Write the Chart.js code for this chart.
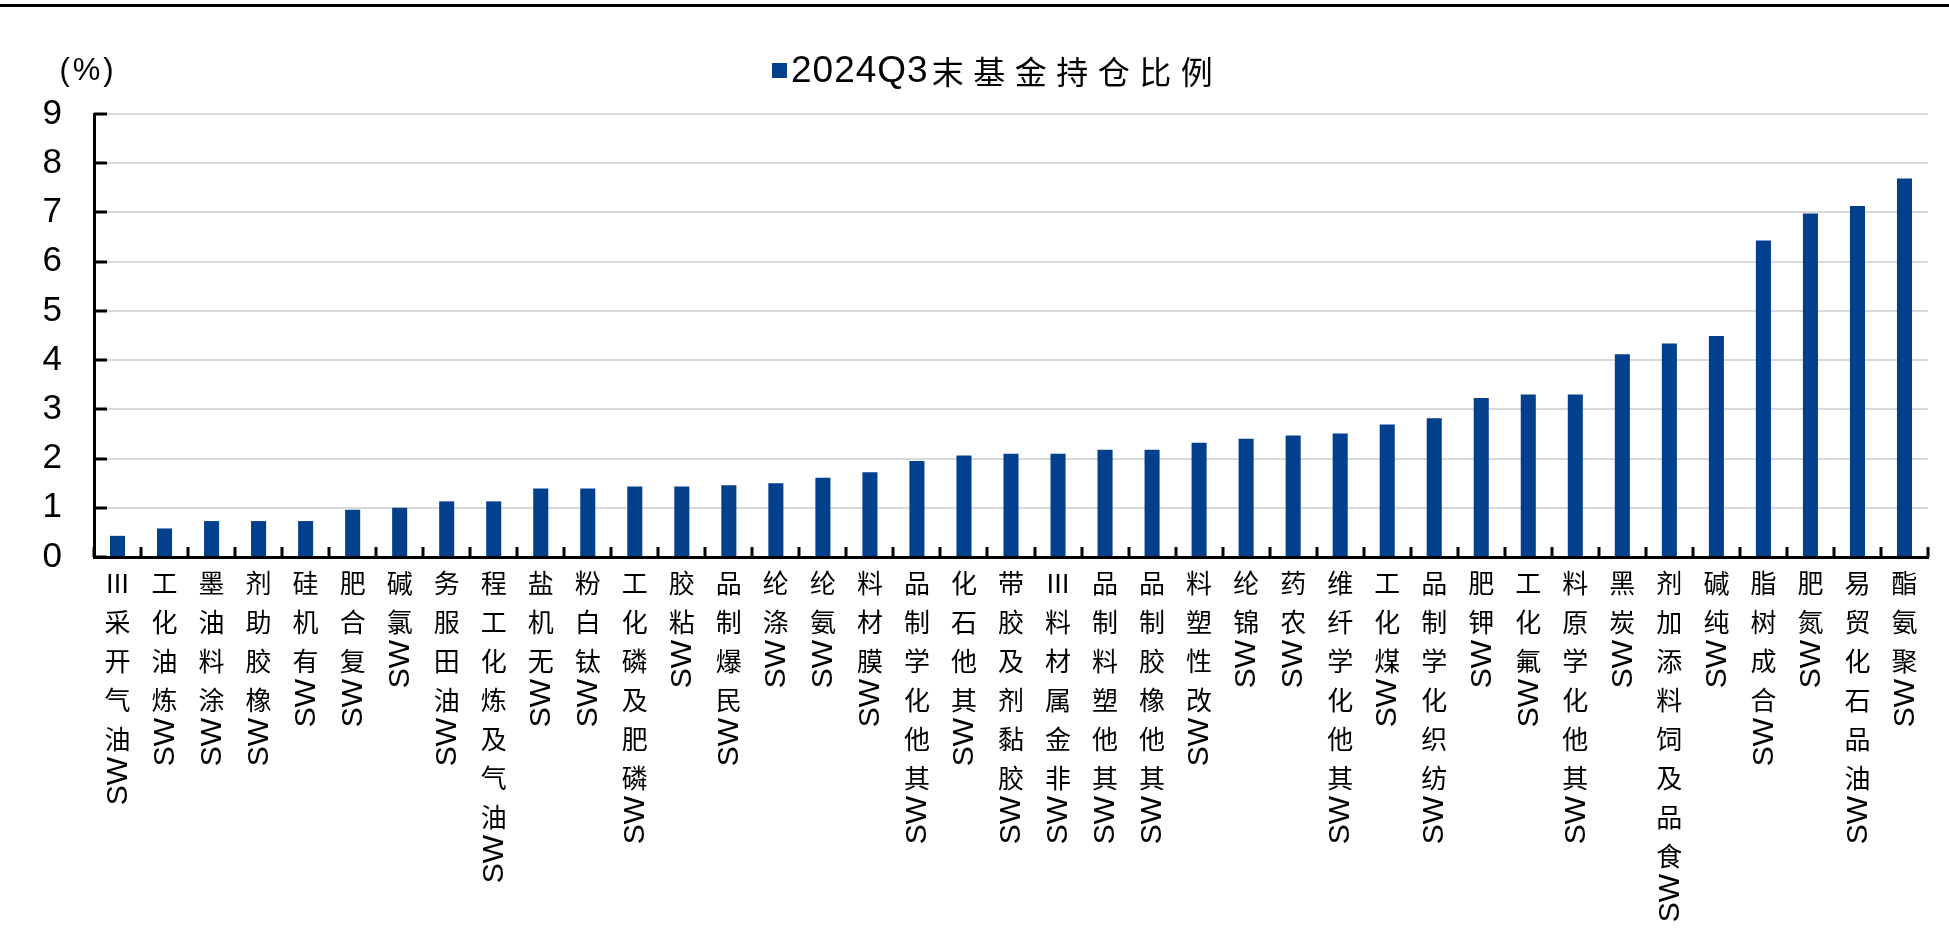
<!DOCTYPE html>
<html>
<head>
<meta charset="utf-8">
<script src="https://cdn.jsdelivr.net/npm/chart.js@4.4.1/dist/chart.umd.min.js"></script>
<style>
  body { margin: 0; background: #fff; }
  canvas { display: block; }
</style>
</head>
<body>
<canvas id="myChart" width="1949" height="945"></canvas>
<script>
// katigories (SW industries) kai times
const categories = [
    'SW油气开采Ⅲ', 'SW炼油化工', 'SW涂料油墨', 'SW橡胶助剂', 'SW有机硅',
    'SW复合肥', 'SW氯碱', 'SW油田服务', 'SW油气及炼化工程', 'SW无机盐',
    'SW钛白粉', 'SW磷肥及磷化工', 'SW粘胶', 'SW民爆制品', 'SW涤纶',
    'SW氨纶', 'SW膜材料', 'SW其他化学制品', 'SW其他石化', 'SW胶黏剂及胶带',
    'SW非金属材料Ⅲ', 'SW其他塑料制品', 'SW其他橡胶制品', 'SW改性塑料', 'SW锦纶',
    'SW农药', 'SW其他化学纤维', 'SW煤化工', 'SW纺织化学制品', 'SW钾肥',
    'SW氟化工', 'SW其他化学原料', 'SW炭黑', 'SW食品及饲料添加剂', 'SW纯碱',
    'SW合成树脂', 'SW氮肥', 'SW油品石化贸易', 'SW聚氨酯'
];
const holdings = [
    0.43, 0.58, 0.73, 0.73, 0.73, 0.96, 1.00, 1.13, 1.13, 1.39,
    1.39, 1.43, 1.43, 1.46, 1.50, 1.61, 1.72, 1.95, 2.06, 2.10,
    2.10, 2.18, 2.18, 2.32, 2.40, 2.47, 2.51, 2.69, 2.82, 3.23,
    3.30, 3.30, 4.12, 4.34, 4.49, 6.43, 6.98, 7.13, 7.69
];
const seriesName = '2024Q3末基金持仓比例';
const unitLabel = '(%)';
const yMin = 0;
const yMax = 9;
const yStep = 1;

const barColor = '#023F8C';
const cjkFont = '"Noto Sans CJK SC", "Noto Sans", sans-serif';
const latinFont = '"Liberation Sans", Arial, sans-serif';

const isLatin = t => /^[A-Za-z0-9]+$/.test(t);

// zwgrafizei ta labels katheta: kinezika orthia, latinika gyrismena
function drawVerticalLabel(ctx, text, x, top) {
    const pitch = 39;
    const tokens = text.match(/[A-Za-z0-9]+|./gu);
    let cursor = top;
    let prevCjk = false;
    ctx.textAlign = 'center';
    ctx.textBaseline = 'middle';
    for (let i = tokens.length - 1; i >= 0; i--) {
        const t = tokens[i];
        if (isLatin(t)) {
            ctx.font = '30px ' + latinFont;
            const w = ctx.measureText(t).width;
            if (prevCjk) cursor -= 2;
            ctx.save();
            ctx.translate(x, cursor + w / 2);
            ctx.rotate(-Math.PI / 2);
            ctx.fillText(t, 0, 1);
            ctx.restore();
            cursor += w + 4;
            prevCjk = false;
        } else {
            ctx.font = '26px ' + cjkFont;
            ctx.fillText(t, x, cursor + pitch / 2);
            cursor += pitch;
            prevCjk = true;
        }
    }
}

const decorPlugin = {
    id: 'decor',
    afterDraw(chart) {
        const ctx = chart.ctx;
        const xs = chart.scales.x;
        const ys = chart.scales.y;
        const area = chart.chartArea;
        ctx.save();
        ctx.fillStyle = '#000';

        // grammi panw
        ctx.fillRect(0, 4, chart.width, 3);

        // monada
        ctx.font = '31px ' + latinFont;
        ctx.letterSpacing = '3px';
        ctx.textAlign = 'center';
        ctx.textBaseline = 'middle';
        ctx.fillText(unitLabel, 88, 71);
        ctx.letterSpacing = '0px';

        // legend
        ctx.fillStyle = barColor;
        ctx.fillRect(772, 63, 15, 15);
        ctx.fillStyle = '#000';
        ctx.textAlign = 'left';
        let lx = 791;
        seriesName.match(/[A-Za-z0-9]+|[^A-Za-z0-9]+/g).forEach(run => {
            if (isLatin(run)) {
                ctx.font = '37px ' + latinFont;
                ctx.letterSpacing = '1px';
            } else {
                lx += 3;
                ctx.font = '32px ' + cjkFont;
                ctx.letterSpacing = '9.5px';
            }
            ctx.fillText(run, lx, 72);
            lx += ctx.measureText(run).width;
        });
        ctx.letterSpacing = '0px';

        // ticks mesa ston axona y
        ctx.strokeStyle = '#000';
        ctx.lineWidth = 3;
        ctx.beginPath();
        for (let v = yMin; v <= yMax; v += yStep) {
            const py = Math.round(ys.getPixelForValue(v));
            ctx.moveTo(area.left, py);
            ctx.lineTo(area.left + 13, py);
        }
        // ticks anamesa stis katigories
        for (let i = 0; i <= categories.length; i++) {
            const px = Math.round(xs.getPixelForValue(i - 0.5));
            ctx.moveTo(px, area.bottom);
            ctx.lineTo(px, area.bottom - 10);
        }
        ctx.stroke();

        // labels tou x
        ctx.fillStyle = '#000';
        categories.forEach((c, i) => {
            drawVerticalLabel(ctx, c, xs.getPixelForValue(i), 564);
        });
        ctx.restore();
    }
};

const data = {
    labels: categories,
    datasets: [{
        label: seriesName,
        backgroundColor: barColor,
        borderColor: barColor,
        data: holdings,
        barPercentage: 0.32,
        categoryPercentage: 1.0
    }]
};

const config = {
    type: 'bar',
    data: data,
    plugins: [decorPlugin],
    options: {
        responsive: false,
        animation: false,
        devicePixelRatio: 1,
        layout: { padding: { top: 114, right: 21, left: 0, bottom: 0 } },
        plugins: {
            legend: { display: false },
            tooltip: { enabled: false }
        },
        scales: {
            x: {
                grid: { display: false },
                ticks: { display: false },
                border: { display: true, color: '#000', width: 3 },
                afterFit(scale) { scale.height = 388; }
            },
            y: {
                min: yMin,
                max: yMax,
                ticks: {
                    stepSize: yStep,
                    color: '#000',
                    padding: 32,
                    font: { family: '"Liberation Sans Narrow", "Liberation Sans", sans-serif', size: 35 }
                },
                grid: { color: '#d9d9d9', lineWidth: 2, drawTicks: false },
                border: { display: true, color: '#000', width: 3 },
                afterFit(scale) { scale.width = 94; }
            }
        }
    }
};

const myChart = new Chart(document.getElementById('myChart'), config);
</script>
</body>
</html>
